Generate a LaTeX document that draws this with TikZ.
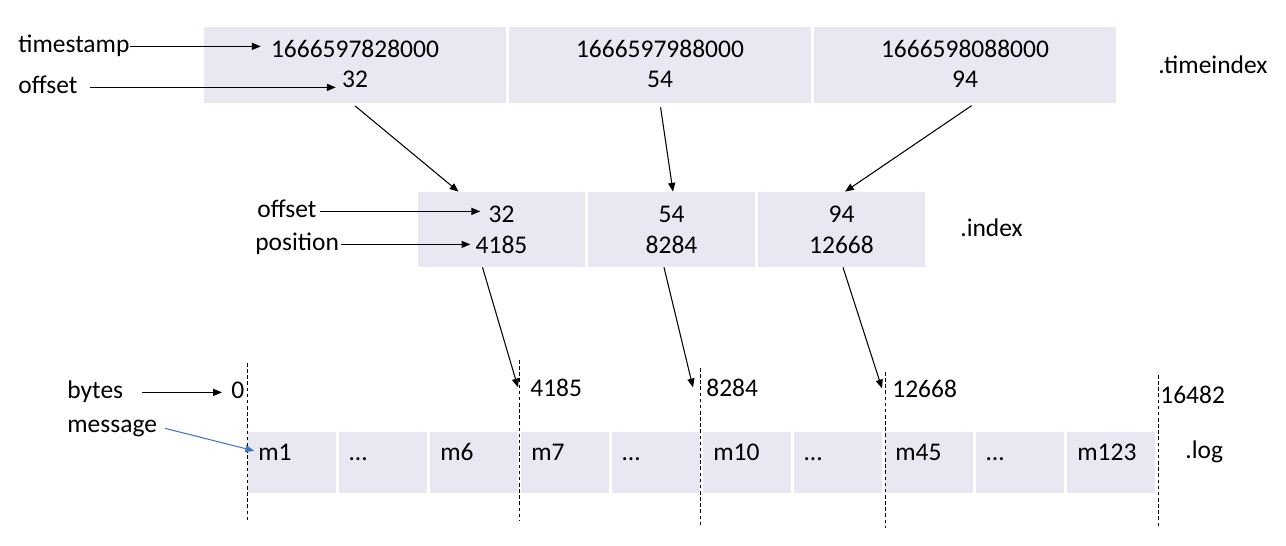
\documentclass[tikz,border=0pt]{standalone}
\usepackage{fontspec}
\setmainfont{Carlito}
\usetikzlibrary{arrows.meta}
\definecolor{cellfill}{RGB}{232,232,242}
\definecolor{msgblue}{RGB}{68,114,196}

\begin{document}
\begin{tikzpicture}[x=0.02cm,y=-0.02cm,
  every node/.style={font=\fontsize{14.5}{17}\selectfont,inner sep=0pt},
  tcell/.style={fill=cellfill,minimum width=6.06cm,minimum height=1.52cm},
  icell/.style={fill=cellfill,minimum width=3.34cm,minimum height=1.5cm},
  mcell/.style={fill=cellfill,minimum width=1.76cm,minimum height=1.22cm},
  txt/.style={anchor=base},
  mtxt/.style={anchor=base west},
  lbl/.style={anchor=base west,text height=0.84em,text depth=0.2em},
  arr/.style={-{Triangle[length=5pt,width=4pt]},line width=0.6pt},
  tick/.style={dash pattern=on 2pt off 1.5pt,line width=0.5pt}]
\useasboundingbox (0,0) rectangle (1286,545);

\foreach \ts/\off [count=\i] in {1666597828000/32,1666597988000/54,1666598088000/94} {
  \node[tcell] (t\i) at (50+305*\i,65) {};
  \node[txt] (ts\i) at (50+305*\i,57) {\ts};
  \node[txt] (to\i) at (50+305*\i,87) {\off};
}
\node[mtxt] (tname) at (1158,73) {.timeindex};

\foreach \off/\pos [count=\i] in {32/4185,54/8284,94/12668} {
  \node[icell] (i\i) at (331.5+170*\i,229.5) {};
  \node[txt] (io\i) at (331.5+170*\i,222) {\off};
  \node[txt] (ip\i) at (331.5+170*\i,253) {\pos};
}
\node[mtxt] (iname) at (960,236) {.index};

\foreach \m [count=\i] in {m1,…,m6,m7,…,m10,…,m45,…,m123} {
  \node[mcell] (c\i) at (201+91*\i,462.5) {};
  \node[mtxt] (mt\i) at (167+91*\i,460) {\m};
}
\node[mtxt] (lname) at (1185,458) {.log};

\foreach \x/\a/\b in {247/363/522,519/360/520,700/368/527,885/372/528,1158/375/528}
  \draw[tick] (\x,\a) -- (\x,\b);

\foreach \b/\x/\y [count=\i from 0] in {0/231/398,4185/530/396,8284/706/396,12668/892/397,16482/1160/403}
  \node[mtxt] (b\i) at (\x,\y) {\b};

\node[lbl] (lts) at (18,52) {timestamp};
\node[lbl] (ltoff) at (18,93) {offset};
\node[lbl] (lioff) at (257,217) {offset};
\node[lbl] (lipos) at (255,250) {position};
\node[lbl] (lbytes) at (67,398) {bytes};
\node[lbl] (lmsg) at (67,432) {message};

\draw[arr,shorten >=0.2cm] (lts.east) -- (lts.east -| ts1.west);
\draw[arr,shorten <=0.24cm,shorten >=0.12cm] (ltoff.east) -- (ltoff.east -| to1.west);
\draw[arr,shorten <=0.06cm,shorten >=0.16cm] (lioff.east) -- (lioff.east -| io1.west);
\draw[arr,shorten <=0.04cm,shorten >=0.1cm] (lipos.east) -- (lipos.east -| ip1.west);
\draw[arr,shorten <=0.36cm,shorten >=0.18cm] (lbytes.east) -- (lbytes.east -| b0.west);
\draw[arr,msgblue,shorten <=0.16cm,shorten >=0.08cm] (lmsg.east) -- (mt1.west);

\draw[arr,shorten <=0.08cm] ([xshift=-0.06cm]t1.south) -- ([xshift=-0.86cm]i1.north);
\draw[arr,shorten <=0.08cm] (t2.south) -- ([xshift=0.03cm]i2.north);
\draw[arr,shorten <=0.08cm] ([xshift=0.2cm]t3.south) -- ([xshift=0.07cm]i3.north);

\draw[arr] ([xshift=-0.38cm]i1.south) -- ([xshift=-0.24cm]b1.west);
\draw[arr] ([xshift=-0.15cm]i2.south) -- ([xshift=-0.26cm]b2.west);
\draw[arr] ([xshift=0.03cm]i3.south) -- ([xshift=-0.2cm]b3.west);
\end{tikzpicture}
\end{document}
